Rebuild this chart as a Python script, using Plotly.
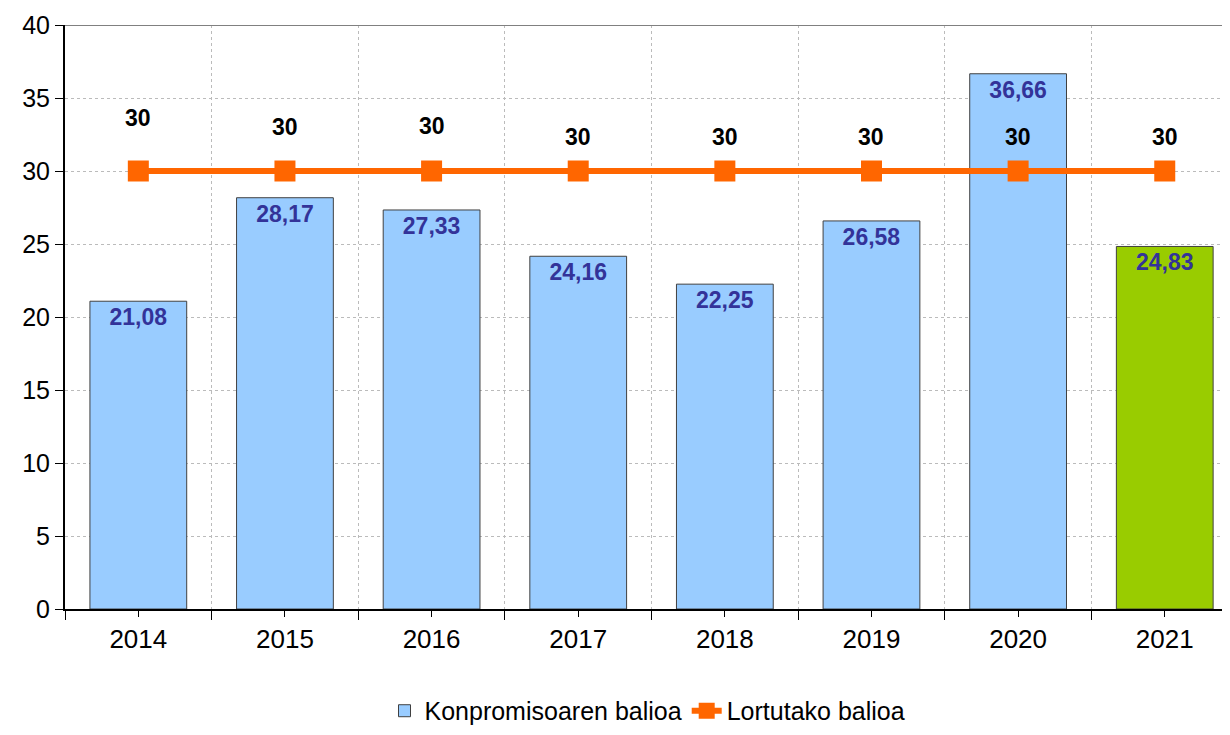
import plotly.graph_objects as go

years = ["2014", "2015", "2016", "2017", "2018", "2019", "2020", "2021"]
konpromiso = [21.08, 28.17, 27.33, 24.16, 22.25, 26.58, 36.66, 24.83]
lortutako = [30, 30, 30, 30, 30, 30, 30, 30]
y_ticks = [0, 5, 10, 15, 20, 25, 30, 35, 40]

xs = list(range(len(years)))
bar_colors = ["#99CCFF"] * (len(years) - 1) + ["#99CC00"]
bar_text = [f"{v:.2f}".replace(".", ",") for v in konpromiso]
label_shift = [53, 44, 45, 34, 34, 34, 34, 34]

FONT = "Liberation Sans, Arial, sans-serif"

fig = go.Figure()
fig.add_trace(go.Bar(
    x=xs, y=konpromiso, name="Konpromisoaren balioa",
    marker=dict(color=bar_colors, line=dict(color="#404040", width=1)),
    width=0.66,
    text=bar_text, textposition="inside", insidetextanchor="end",
    textfont=dict(color="#333399", size=23, family=FONT, weight="bold"),
    textangle=0, cliponaxis=False,
))
fig.add_trace(go.Scatter(
    x=xs, y=lortutako, name="Lortutako balioa", mode="lines+markers",
    line=dict(color="#FF6600", width=6),
    marker=dict(symbol="square", size=21, color="#FF6600"),
))
for xi, v, s in zip(xs, lortutako, label_shift):
    fig.add_annotation(x=xi, y=v, text=f"<b>{v}</b>", showarrow=False,
                       yshift=s, font=dict(size=23, color="black", family=FONT))

fig.add_shape(type="line", xref="paper", yref="y", x0=0, x1=1, y0=40, y1=40,
              line=dict(color="#808080", width=2), layer="above")

fig.update_layout(
    width=1222, height=727,
    margin=dict(l=57, r=0, t=17, b=126),
    paper_bgcolor="white", plot_bgcolor="white",
    font=dict(family=FONT, size=25, color="black"),
    showlegend=True,
    legend=dict(orientation="h", x=0.5, xanchor="center", y=-0.214, yanchor="bottom",
                font=dict(size=25), traceorder="normal"),
    xaxis=dict(
        range=[-0.5, 7.445], tickvals=xs, ticktext=years, automargin=False,
        showgrid=False, zeroline=False,
        showline=True, linecolor="black", linewidth=2,
        ticks="outside", ticklen=6, tickcolor="black", tickwidth=1,
        tickfont=dict(size=26),
        minor=dict(tick0=0.5, dtick=1, ticks="outside", ticklen=9, tickcolor="black",
                   showgrid=True, gridcolor="#BBBBBB", griddash="3px,3px", gridwidth=1),
    ),
    yaxis=dict(
        range=[0, 40], tickvals=y_ticks, showgrid=True, gridcolor="#BBBBBB",
        griddash="3px,3px", gridwidth=1, zeroline=False, automargin=False,
        showline=True, linecolor="black", linewidth=2,
        ticks="outside", ticklen=8, tickcolor="black",
        tickfont=dict(size=25),
    ),
)

fig.write_html("out.html")
